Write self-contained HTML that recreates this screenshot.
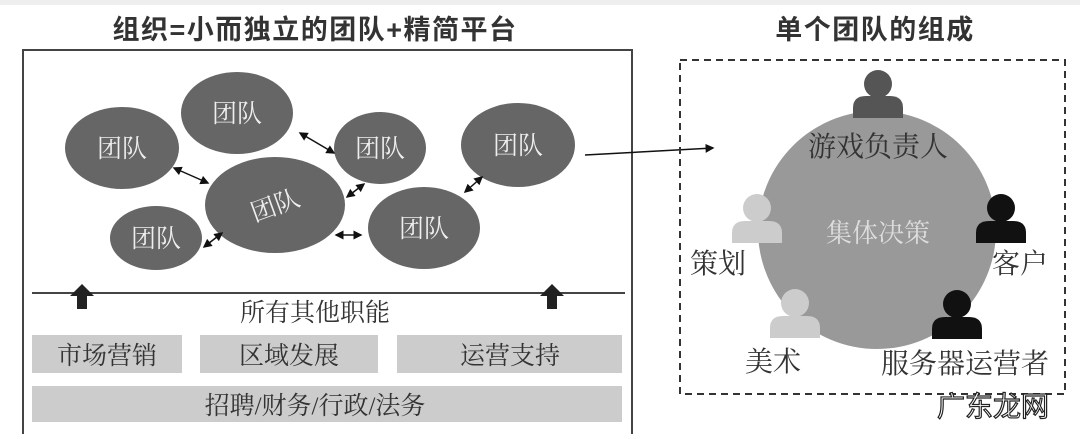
<!DOCTYPE html>
<html><head><meta charset="utf-8"><style>
body{margin:0;width:1080px;height:434px;background:#fff;overflow:hidden;font-family:"Liberation Sans","Noto Sans CJK SC",sans-serif}
</style></head><body>
<svg width="1080" height="434" xmlns="http://www.w3.org/2000/svg" style="font-family:'Liberation Sans','Noto Sans CJK SC',sans-serif">
<defs>
<marker id="a" markerWidth="6" markerHeight="6" refX="5" refY="3" orient="auto-start-reverse"><path d="M0,0 L6,3 L0,6 z" fill="#111"/></marker>
</defs>
<rect x="0" y="0" width="1080" height="5" fill="#eee"/>
<text x="315" y="39" font-size="27" font-weight="bold" text-anchor="middle" fill="#333" letter-spacing="1.5">组织=小而独立的团队+精简平台</text>
<text x="875" y="39" font-size="27" font-weight="bold" text-anchor="middle" fill="#333" letter-spacing="1.5">单个团队的组成</text>
<path d="M23,434 V50 H632 V434" fill="none" stroke="#444" stroke-width="2"/>
<g fill="#666">
<ellipse cx="237" cy="113" rx="56" ry="41"/>
<ellipse cx="122" cy="148" rx="57" ry="41"/>
<ellipse cx="380" cy="148" rx="46" ry="36"/>
<ellipse cx="518" cy="145" rx="57" ry="42"/>
<ellipse cx="275" cy="205" rx="70" ry="48"/>
<ellipse cx="156" cy="238" rx="46" ry="32"/>
<ellipse cx="424" cy="228" rx="56" ry="41"/>
</g>
<g fill="#eee" font-size="25" text-anchor="middle" style="font-family:'Liberation Serif','Noto Serif CJK SC',serif">
<text x="237" y="122">团队</text>
<text x="122" y="157">团队</text>
<text x="380" y="157">团队</text>
<text x="518" y="154">团队</text>
<text x="275" y="214" transform="rotate(-20 275 205)">团队</text>
<text x="156" y="247">团队</text>
<text x="424" y="237">团队</text>
</g>
<g stroke="#111" stroke-width="1.5" marker-start="url(#a)" marker-end="url(#a)">
<line x1="300" y1="133" x2="334" y2="153"/>
<line x1="174" y1="168" x2="208" y2="183"/>
<line x1="347" y1="197" x2="364" y2="184"/>
<line x1="465" y1="192" x2="482" y2="177"/>
<line x1="204" y1="247" x2="222" y2="233"/>
<line x1="336" y1="235" x2="361" y2="235"/>
</g>
<line x1="585" y1="155" x2="713" y2="148" stroke="#111" stroke-width="1.5" marker-end="url(#a)"/>
<line x1="32" y1="293" x2="625" y2="293" stroke="#444" stroke-width="2"/>
<path d="M82,284 L70,296 H77 V309 H87 V296 H94 Z" fill="#222"/>
<path d="M552,284 L540,296 H547 V309 H557 V296 H564 Z" fill="#222"/>
<g style="font-family:'Liberation Serif','Noto Serif CJK SC',serif" text-anchor="middle" fill="#333">
<text x="315" y="321" font-size="25">所有其他职能</text>
</g>
<g fill="#ccc">
<rect x="32" y="335" width="150" height="38"/>
<rect x="200" y="335" width="178" height="38"/>
<rect x="397" y="335" width="225" height="38"/>
<rect x="32" y="386" width="590" height="36"/>
</g>
<g font-size="25" text-anchor="middle" fill="#333" style="font-family:'Liberation Serif','Noto Serif CJK SC',serif">
<text x="107" y="364">市场营销</text>
<text x="289" y="364">区域发展</text>
<text x="510" y="364">运营支持</text>
<text x="315" y="414">招聘/财务/行政/法务</text>
</g>
<rect x="680" y="60" width="385" height="334" fill="none" stroke="#333" stroke-width="2" stroke-dasharray="7,5"/>
<circle cx="877" cy="230" r="119" fill="#999"/>
<g>
<g fill="#555"><circle cx="878" cy="84" r="14"/><path d="M853,118 V108 Q853,96 866,96 H890 Q903,96 903,108 V118 Z"/></g>
<g fill="#ccc"><circle cx="757" cy="208" r="14"/><path d="M732,243 V233 Q732,221 745,221 H769 Q782,221 782,233 V243 Z"/></g>
<g fill="#111"><circle cx="1001" cy="208" r="14"/><path d="M976,243 V233 Q976,221 989,221 H1013 Q1026,221 1026,233 V243 Z"/></g>
<g fill="#ccc"><circle cx="795" cy="303" r="14"/><path d="M770,338 V328 Q770,316 783,316 H807 Q820,316 820,328 V338 Z"/></g>
<g fill="#111"><circle cx="957" cy="304" r="14"/><path d="M932,339 V329 Q932,317 945,317 H969 Q982,317 982,329 V339 Z"/></g>
</g>
<g font-size="28" text-anchor="middle" fill="#333" style="font-family:'Liberation Serif','Noto Serif CJK SC',serif">
<text x="878" y="156">游戏负责人</text>
<text x="878" y="242" fill="#ddd" font-size="26">集体决策</text>
<text x="718" y="273">策划</text>
<text x="1020" y="273">客户</text>
<text x="773" y="371">美术</text>
<text x="965" y="373">服务器运营者</text>
</g>
<text x="993" y="416" font-size="28" text-anchor="middle" fill="#fff" stroke="#222" stroke-width="1.2">广东龙网</text>
</svg>
</body></html>
